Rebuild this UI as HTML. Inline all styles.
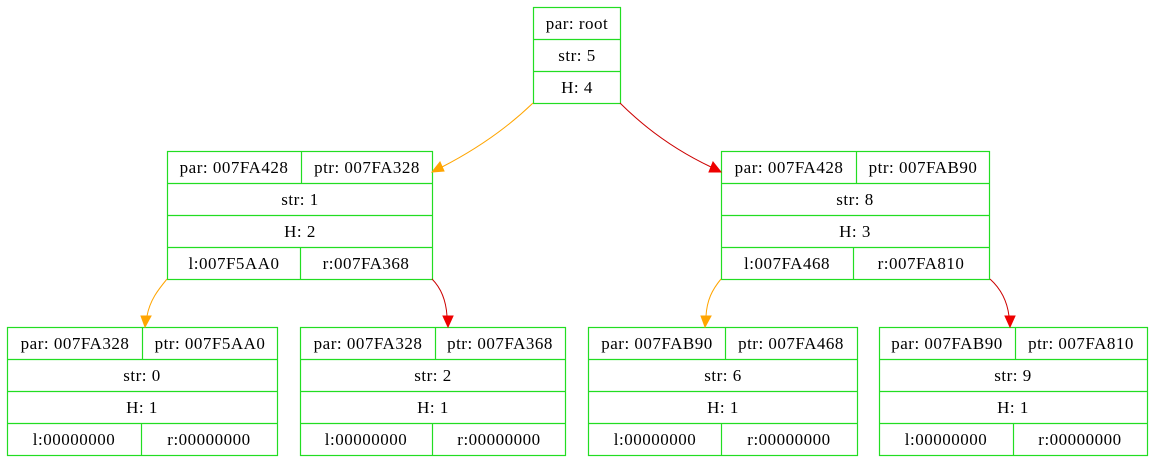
<!DOCTYPE html>
<html><head><meta charset="utf-8"><style>
html,body{margin:0;padding:0;background:#fff;width:1152px;height:461px;overflow:hidden}
svg text{font-family:"Liberation Serif",serif;font-size:17px;letter-spacing:0.5px;fill:#000;text-anchor:middle}
</style></head><body>
<svg width="1152" height="461" viewBox="0 0 1152 461" xmlns="http://www.w3.org/2000/svg">
<g fill="none" stroke="#22dd22" stroke-width="1.2">
<rect x="533.5" y="7.5" width="87" height="96"/>
<line x1="533.5" y1="39.5" x2="620.5" y2="39.5"/><line x1="533.5" y1="71.5" x2="620.5" y2="71.5"/>
<rect x="167.5" y="151.5" width="265" height="128"/>
<line x1="167.5" y1="183.5" x2="432.5" y2="183.5"/><line x1="167.5" y1="215.5" x2="432.5" y2="215.5"/><line x1="167.5" y1="247.5" x2="432.5" y2="247.5"/>
<line x1="301.5" y1="151.5" x2="301.5" y2="183.5"/><line x1="300.5" y1="247.5" x2="300.5" y2="279.5"/>
<rect x="721.5" y="151.5" width="268" height="128"/>
<line x1="721.5" y1="183.5" x2="989.5" y2="183.5"/><line x1="721.5" y1="215.5" x2="989.5" y2="215.5"/><line x1="721.5" y1="247.5" x2="989.5" y2="247.5"/>
<line x1="856.5" y1="151.5" x2="856.5" y2="183.5"/><line x1="853.5" y1="247.5" x2="853.5" y2="279.5"/>
<rect x="7.5" y="327.5" width="270" height="128"/>
<line x1="7.5" y1="359.5" x2="277.5" y2="359.5"/><line x1="7.5" y1="391.5" x2="277.5" y2="391.5"/><line x1="7.5" y1="423.5" x2="277.5" y2="423.5"/>
<line x1="142.5" y1="327.5" x2="142.5" y2="359.5"/><line x1="141.5" y1="423.5" x2="141.5" y2="455.5"/>
<rect x="300.5" y="327.5" width="265" height="128"/>
<line x1="300.5" y1="359.5" x2="565.5" y2="359.5"/><line x1="300.5" y1="391.5" x2="565.5" y2="391.5"/><line x1="300.5" y1="423.5" x2="565.5" y2="423.5"/>
<line x1="435.5" y1="327.5" x2="435.5" y2="359.5"/><line x1="432.5" y1="423.5" x2="432.5" y2="455.5"/>
<rect x="588.5" y="327.5" width="269" height="128"/>
<line x1="588.5" y1="359.5" x2="857.5" y2="359.5"/><line x1="588.5" y1="391.5" x2="857.5" y2="391.5"/><line x1="588.5" y1="423.5" x2="857.5" y2="423.5"/>
<line x1="725.5" y1="327.5" x2="725.5" y2="359.5"/><line x1="721.5" y1="423.5" x2="721.5" y2="455.5"/>
<rect x="879.5" y="327.5" width="268" height="128"/>
<line x1="879.5" y1="359.5" x2="1147.5" y2="359.5"/><line x1="879.5" y1="391.5" x2="1147.5" y2="391.5"/><line x1="879.5" y1="423.5" x2="1147.5" y2="423.5"/>
<line x1="1015.5" y1="327.5" x2="1015.5" y2="359.5"/><line x1="1013.5" y1="423.5" x2="1013.5" y2="455.5"/>
</g>
<g fill="none" stroke-width="1">
<path d="M533,103 C505,130 475,150 442,167" stroke="#ffa500"/>
<path d="M620,103 C645,128 675,150 711,167" stroke="#cc0000"/>
<path d="M167,279 C158,290 150,300 147,316" stroke="#ffa500"/>
<path d="M432,279 C441,288 446,300 447,316" stroke="#cc0000"/>
<path d="M721,279 C712,290 707,300 706,316" stroke="#ffa500"/>
<path d="M990,279 C1000,288 1007,300 1009,316" stroke="#cc0000"/>
</g>
<g stroke-width="1">
<polygon points="432,172 440,162 444,171" fill="#ffa500" stroke="#ffa500"/>
<polygon points="721,172 709,172 713,162" fill="#ee0000" stroke="#ee0000"/>
<polygon points="145,327 141,316 151,316" fill="#ffa500" stroke="#ffa500"/>
<polygon points="448,327 443,316 453,316" fill="#ee0000" stroke="#ee0000"/>
<polygon points="705,327 701,316 711,316" fill="#ffa500" stroke="#ffa500"/>
<polygon points="1010,327 1005,316 1015,316" fill="#ee0000" stroke="#ee0000"/>
</g>
<text x="577" y="29">par: root</text><text x="577" y="61">str: 5</text><text x="577" y="93">H: 4</text>

<text x="234" y="173">par: 007FA428</text><text x="367" y="173">ptr: 007FA328</text>
<text x="300" y="205">str: 1</text><text x="300" y="237">H: 2</text>
<text x="234" y="269">l:007F5AA0</text><text x="366" y="269">r:007FA368</text>

<text x="789" y="173">par: 007FA428</text><text x="923" y="173">ptr: 007FAB90</text>
<text x="855" y="205">str: 8</text><text x="855" y="237">H: 3</text>
<text x="787" y="269">l:007FA468</text><text x="921" y="269">r:007FA810</text>

<text x="75" y="349">par: 007FA328</text><text x="210" y="349">ptr: 007F5AA0</text>
<text x="142" y="381">str: 0</text><text x="142" y="413">H: 1</text>
<text x="74" y="445">l:00000000</text><text x="209" y="445">r:00000000</text>

<text x="368" y="349">par: 007FA328</text><text x="500" y="349">ptr: 007FA368</text>
<text x="433" y="381">str: 2</text><text x="433" y="413">H: 1</text>
<text x="366" y="445">l:00000000</text><text x="499" y="445">r:00000000</text>

<text x="657" y="349">par: 007FAB90</text><text x="791" y="349">ptr: 007FA468</text>
<text x="723" y="381">str: 6</text><text x="723" y="413">H: 1</text>
<text x="655" y="445">l:00000000</text><text x="789" y="445">r:00000000</text>

<text x="947" y="349">par: 007FAB90</text><text x="1081" y="349">ptr: 007FA810</text>
<text x="1013" y="381">str: 9</text><text x="1013" y="413">H: 1</text>
<text x="946" y="445">l:00000000</text><text x="1080" y="445">r:00000000</text>
</svg>
</body></html>
